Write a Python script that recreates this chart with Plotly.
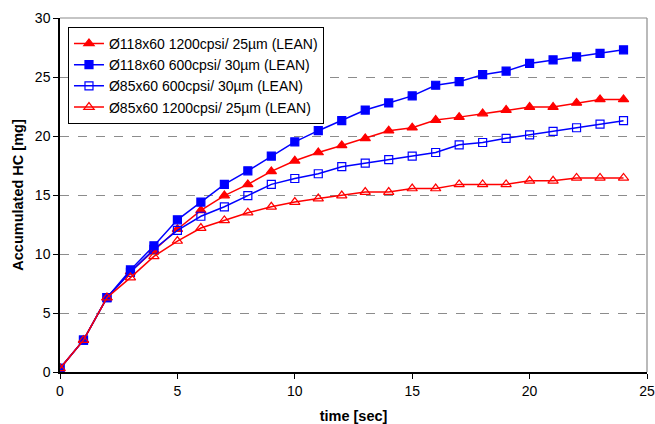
import plotly.graph_objects as go

time_sec = list(range(0, 25))

hc_118_1200 = [0.3, 2.7, 6.3, 8.5, 10.3, 12.1, 13.7, 14.95, 15.9, 17.0, 17.9,
               18.6, 19.2, 19.8, 20.45, 20.7, 21.35, 21.6, 21.9, 22.2, 22.45,
               22.45, 22.8, 23.1, 23.1]
hc_118_600 = [0.3, 2.7, 6.3, 8.65, 10.7, 12.9, 14.4, 15.9, 17.05, 18.3, 19.5,
              20.45, 21.3, 22.2, 22.8, 23.4, 24.3, 24.6, 25.2, 25.5, 26.15,
              26.45, 26.7, 27.0, 27.3]
hc_85_600 = [0.3, 2.7, 6.3, 8.45, 10.4, 12.0, 13.2, 14.0, 14.95, 15.9, 16.4,
             16.8, 17.4, 17.7, 18.0, 18.3, 18.6, 19.25, 19.45, 19.8, 20.1,
             20.4, 20.7, 21.0, 21.3]
hc_85_1200 = [0.3, 2.7, 6.3, 8.0, 9.8, 11.1, 12.2, 12.85, 13.5, 14.0, 14.4,
              14.7, 14.95, 15.25, 15.25, 15.55, 15.55, 15.9, 15.9, 15.9, 16.2,
              16.2, 16.45, 16.45, 16.45]

series_names = [
    "Ø118x60 1200cpsi/ 25µm (LEAN)",
    "Ø118x60 600cpsi/ 30µm (LEAN)",
    "Ø85x60 600cpsi/ 30µm (LEAN)",
    "Ø85x60 1200cpsi/ 25µm (LEAN)",
]

RED = "#FF0000"
BLUE = "#0000FF"

styles = [
    dict(color=RED, symbol="triangle-up", size=9, fill=RED),
    dict(color=BLUE, symbol="square", size=8, fill=BLUE),
    dict(color=BLUE, symbol="square-open", size=8, fill=BLUE),
    dict(color=RED, symbol="triangle-up-open", size=9, fill=RED),
]
data = [hc_118_1200, hc_118_600, hc_85_600, hc_85_1200]

fig = go.Figure()
for name, ys, st in zip(series_names, data, styles):
    fig.add_trace(go.Scatter(
        x=time_sec, y=ys, name=name, mode="lines+markers",
        line=dict(color=st["color"], width=1.5),
        marker=dict(symbol=st["symbol"], size=st["size"], color=st["fill"],
                    line=dict(color=st["color"], width=1.2)),
    ))

font_family = "Liberation Sans, Arial, sans-serif"

fig.update_layout(
    width=655, height=424,
    margin=dict(l=60, r=8, t=18, b=52, autoexpand=False),
    paper_bgcolor="white", plot_bgcolor="white",
    font=dict(family=font_family, size=14, color="black"),
    showlegend=True,
    legend=dict(
        x=0.0136, y=0.975, xanchor="left", yanchor="top",
        bgcolor="white", bordercolor="black", borderwidth=1,
        font=dict(family=font_family, size=14, color="black"),
        tracegroupgap=0, itemwidth=30,
    ),
    xaxis=dict(
        range=[0, 25], tickvals=[0, 5, 10, 15, 20, 25],
        showgrid=False, zeroline=False, automargin=False,
        showline=True, linecolor="black", linewidth=1.5,
        ticks="outside", ticklen=5, tickcolor="black",
        title=dict(text="<b>time [sec]</b>", font=dict(size=14.5), standoff=13),
        tickfont=dict(size=14),
    ),
    yaxis=dict(
        range=[0, 30], tickvals=[0, 5, 10, 15, 20, 25, 30],
        showgrid=True, gridcolor="#8C8C8C", griddash="dash", gridwidth=1,
        zeroline=False, automargin=False,
        showline=True, linecolor="black", linewidth=1.5,
        ticks="outside", ticklen=5, tickcolor="black",
        title=dict(text="<b>Accumulated HC [mg]</b>", font=dict(size=14.5), standoff=8),
        tickfont=dict(size=14),
    ),
    shapes=[
        dict(type="line", xref="paper", yref="paper", x0=0, x1=1, y0=1, y1=1,
             line=dict(color="#8C8C8C", width=1.2), layer="below"),
        dict(type="line", xref="paper", yref="paper", x0=1, x1=1, y0=0, y1=1,
             line=dict(color="#8C8C8C", width=1.2), layer="below"),
    ],
)

fig.write_html("out.html", config={"displayModeBar": False},
               post_script="document.body.style.margin='0px';")
